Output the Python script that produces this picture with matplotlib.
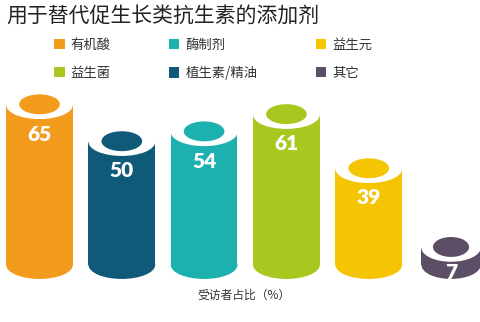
import matplotlib
matplotlib.use("Agg")
import matplotlib.pyplot as plt
from matplotlib.patches import Ellipse, Rectangle, Patch

plt.rcParams['font.family'] = ['Noto Sans CJK SC', 'DejaVu Sans']

# ---- data ----
title = "用于替代促生长类抗生素的添加剂"
categories = ["有机酸", "植生素/精油", "酶制剂", "益生菌", "益生元", "其它"]
values = [65, 50, 54, 61, 39, 7]
xlabel = "受访者占比（%）"
legend_order = ["有机酸", "益生菌", "酶制剂", "植生素/精油", "益生元", "其它"]

# ---- style ----
colors = {
    "有机酸": "#F39B1C",
    "植生素/精油": "#0F5A78",
    "酶制剂": "#1CB0AF",
    "益生菌": "#A8C81F",
    "益生元": "#F5C402",
    "其它": "#5C4E65",
}
bar_widths = [0.81, 0.81, 0.81, 0.81, 0.81, 0.72]
cap_height = 11.4          # vertical size of the elliptical caps, in data units
inner_w, inner_h = 0.61, 0.71
label_color = "#222222"

fig = plt.figure(figsize=(4.8, 3.22), dpi=100)
ax = fig.add_axes([0, 0, 1, 1])
ax.set_xlim(-0.48, 5.352)
ax.set_ylim(-23.2, 107.7)
ax.axis("off")

px_per_unit = 322 / (107.7 + 23.2)

for i, (cat, v) in enumerate(zip(categories, values)):
    c = colors[cat]
    w = bar_widths[i]
    # cylinder body and bottom
    ax.add_patch(Ellipse((i, 0), w, cap_height, facecolor=c, edgecolor="none", zorder=2))
    ax.add_patch(Rectangle((i - w / 2, 0), w, v, facecolor=c, edgecolor="none", zorder=2))
    # open top: white rim with coloured inside
    ax.add_patch(Ellipse((i, v), w, cap_height, facecolor="#FFFFFF", edgecolor="none", zorder=3))
    ax.add_patch(Ellipse((i, v + 0.3), w * inner_w, cap_height * inner_h,
                         facecolor=c, edgecolor="none", zorder=4))
    # value label on the side of the cylinder
    body_px = v * px_per_unit
    off_px = min(29, body_px / 2 + 16)
    ax.annotate(str(v), (i, v), xytext=(0, -off_px * 0.72), textcoords="offset points",
                ha="center", va="center", color="white", fontsize=15,
                fontweight="heavy", family=["Lato", "DejaVu Sans"], zorder=5)

fig.text(6 / 480, 1 - 16 / 322, title, fontsize=15, color=label_color,
         ha="left", va="center", fontweight="medium")

handles = [Patch(facecolor=colors[k], edgecolor="none", label=k) for k in legend_order]
leg = fig.legend(handles=handles, ncol=3, loc="upper left",
                 bbox_to_anchor=(54 / 480, 1 - 38 / 322), frameon=False,
                 fontsize=9.6, handlelength=0.8, handleheight=0.8,
                 handletextpad=0.45, columnspacing=4.35, labelspacing=1.05,
                 borderaxespad=0, borderpad=0)
for t in leg.get_texts():
    t.set_color("#333333")
    t.set_fontweight("medium")

fig.text(244 / 480, 1 - 295 / 322, xlabel, fontsize=8.5, color="#333333",
         ha="center", va="center")

fig.savefig("out.png", dpi=100, facecolor="white")
